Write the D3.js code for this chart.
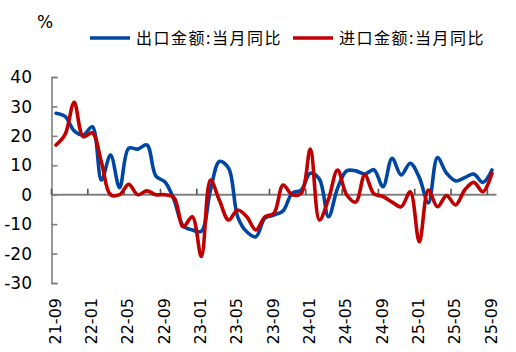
<!DOCTYPE html>
<html>
<head>
<meta charset="utf-8">
<script src="https://cdn.jsdelivr.net/npm/d3@7/dist/d3.min.js"></script>
<style>
  html, body { margin: 0; padding: 0; background: #fff; }
  svg { display: block; }
</style>
</head>
<body>
<svg id="chart"></svg>
<script>
// months 2021-09 .. 2025-09
const months = [
  "21-09","21-10","21-11","21-12",
  "22-01","22-02","22-03","22-04","22-05","22-06","22-07","22-08","22-09","22-10","22-11","22-12",
  "23-01","23-02","23-03","23-04","23-05","23-06","23-07","23-08","23-09","23-10","23-11","23-12",
  "24-01","24-02","24-03","24-04","24-05","24-06","24-07","24-08","24-09","24-10","24-11","24-12",
  "25-01","25-02","25-03","25-04","25-05","25-06","25-07","25-08","25-09"
];
const tickLabels = ["21-09","22-01","22-05","22-09","23-01","23-05","23-09","24-01","24-05","24-09","25-01","25-05","25-09"];
const yTicks = [40, 30, 20, 10, 0, -10, -20, -30];

// 出口金额:当月同比
const exportYoY = [27.7, 26.6, 21.7, 20.3, 23.1, 5.0, 13.5, 2.4, 15.8, 15.5, 16.9, 6.3, 4.3, -1.8, -10.6, -12.0, -12.4, 1.5, 11.3, 9.0,
  -7.5, -12.6, -14.3, -8.0, -6.9, -5.5, 0.5, 1.6, 7.3, 5.3, -7.5, 2.2, 8.1, 8.1, 7.0, 8.5, 2.7, 12.4, 6.7, 10.7,
  5.8, -2.8, 12.6, 7.3, 4.7, 5.8, 7.0, 4.2, 8.4];
// 进口金额:当月同比
const importYoY = [16.9, 20.5, 31.4, 19.7, 21.0, 11.0, 0.0, 0.0, 3.5, 0.0, 1.3, 0.0, 0.0, -1.0, -10.9, -7.5, -21.0, 5.0, -2.0, -8.6,
  -5.2, -7.5, -12.0, -7.5, -6.3, 3.3, 0.0, 0.5, 15.5, -8.6, -1.5, 8.4, 0.0, -2.5, 6.7, 0.3, -0.6, -2.5, -4.1, 1.0,
  -16.0, 1.6, -4.1, -0.3, -3.5, 1.6, 4.2, 1.0, 7.3];

const series = [
  { name: "出口金额:当月同比", values: exportYoY, color: "#0047A3" },
  { name: "进口金额:当月同比", values: importYoY, color: "#C00000" }
];

const width = 516, height = 352;
const plot = { left: 51.5, right: 496.5, top: 77, bottom: 283 };
const axisColor = "#808080";
const numFont = "'DejaVu Sans', Verdana, sans-serif";

const svg = d3.select("#chart").attr("width", width).attr("height", height);

const xScale = d3.scalePoint().domain(months).range([plot.left, plot.right]).padding(0.5);
const yScale = d3.scaleLinear().domain([-30, 40]).range([plot.bottom, plot.top]);
const step = xScale.step();

// y axis, ticks pointing into the plot
const yAxis = svg.append("g")
  .attr("transform", `translate(${plot.left},0)`)
  .call(d3.axisRight(yScale).tickValues(yTicks).tickSize(6).tickSizeOuter(6).tickFormat(""));
yAxis.select(".domain").attr("stroke", axisColor).attr("stroke-width", 1.6);
yAxis.selectAll(".tick line").attr("stroke", axisColor).attr("stroke-width", 1.6);

svg.append("g").selectAll("text")
  .data(yTicks)
  .join("text")
  .attr("x", 32)
  .attr("y", d => yScale(d))
  .attr("dy", "0.36em")
  .attr("text-anchor", "end")
  .attr("font-family", numFont)
  .attr("font-size", 17)
  .attr("fill", "#000")
  .text(d => d);

// x axis at zero, tick marks on category boundaries every 4 months
const xAxisG = svg.append("g").attr("transform", `translate(0,${yScale(0)})`);
xAxisG.append("line")
  .attr("x1", plot.left).attr("x2", plot.right)
  .attr("stroke", axisColor).attr("stroke-width", 2);
xAxisG.selectAll("line.tk")
  .data(tickLabels)
  .join("line")
  .attr("class", "tk")
  .attr("x1", d => xScale(d) - step / 2)
  .attr("x2", d => xScale(d) - step / 2)
  .attr("y1", 0).attr("y2", -6)
  .attr("stroke", "#555").attr("stroke-width", 1.6);

svg.append("g").selectAll("text")
  .data(tickLabels)
  .join("text")
  .attr("transform", d => `translate(${xScale(d) - 1},298) rotate(-90)`)
  .attr("dy", "0.36em")
  .attr("text-anchor", "end")
  .attr("font-family", numFont)
  .attr("font-size", 16)
  .attr("fill", "#000")
  .text(d => d);

// lines
const line = d3.line()
  .x((d, i) => xScale(months[i]))
  .y(d => yScale(d))
  .curve(d3.curveCatmullRom.alpha(0.5));

svg.append("g").selectAll("path")
  .data(series)
  .join("path")
  .attr("d", d => line(d.values))
  .attr("fill", "none")
  .attr("stroke", d => d.color)
  .attr("stroke-width", 3.6)
  .attr("stroke-linejoin", "round")
  .attr("stroke-linecap", "round");

// unit
svg.append("text")
  .attr("x", 37).attr("y", 28)
  .attr("font-family", numFont)
  .attr("font-size", 17)
  .text("%");

// legend
const legendX = [90, 293];
const legend = svg.append("g").selectAll("g")
  .data(series)
  .join("g")
  .attr("transform", (d, i) => `translate(${legendX[i]},38)`);
legend.append("line")
  .attr("x1", 0).attr("x2", 40)
  .attr("stroke", d => d.color)
  .attr("stroke-width", 3.6);
legend.append("text")
  .attr("x", 46)
  .attr("dy", "0.36em")
  .attr("font-family", "'Noto Sans CJK SC', sans-serif")
  .attr("font-size", 16)
  .attr("letter-spacing", 1.5)
  .attr("fill", "#000")
  .text(d => d.name);
</script>
</body>
</html>
